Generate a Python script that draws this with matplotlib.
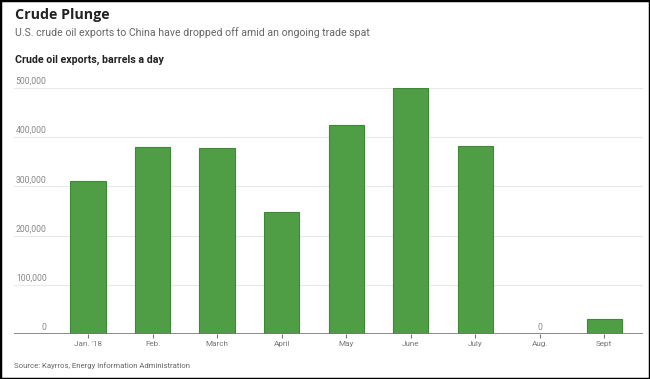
import matplotlib
matplotlib.use("Agg")
import matplotlib.pyplot as plt
from matplotlib.patches import Rectangle

months = ["Jan. '18", "Feb.", "March", "April", "May", "June", "July", "Aug.", "Sept"]
exports = [311000, 380000, 378000, 248000, 425000, 500000, 382000, 0, 30000]
yticks = [0, 100000, 200000, 300000, 400000, 500000]
ytick_labels = ["0", "100,000", "200,000", "300,000", "400,000", "500,000"]

NARROW = ['Roboto', 'DejaVu Sans']
plt.rcParams['font.family'] = ['Open Sans', 'DejaVu Sans']

W, H = 650, 379
fig = plt.figure(figsize=(W/100, H/100), dpi=100)
fig.patches.append(Rectangle((0, 0), 1, 1, transform=fig.transFigure,
                             fill=False, edgecolor='black', linewidth=2.5, zorder=10))

def fx(px): return px / W
def fy(py): return 1 - py / H

fig.text(fx(15), fy(15), "Crude Plunge", fontsize=10.3, fontweight='bold',
         color='#222222', va='center', ha='left')
fig.text(fx(15), fy(33), "U.S. crude oil exports to China have dropped off amid an ongoing trade spat",
         fontsize=7.6, color='#666666', va='center', ha='left', family=NARROW)
fig.text(fx(15), fy(60), "Crude oil exports, barrels a day", fontsize=7.7, fontweight='bold',
         color='#222222', va='center', ha='left', family=NARROW)
fig.text(fx(14), fy(366), "Source: Kayrros, Energy Information Administration",
         fontsize=5.6, color='#666666', va='center', ha='left', family=NARROW)

ax = fig.add_axes([fx(14), fy(334), fx(643) - fx(14), fy(88) - fy(334)])
ax.set_ylim(0, 500000)
ax.set_xlim(-1.15, 8.6)
x = list(range(len(months)))
ax.bar(x, exports, width=0.55, color='#4f9e46', edgecolor='#3d8735', linewidth=0.8, zorder=3)

for t in yticks[1:]:
    ax.axhline(t, color='#e8e8e8', linewidth=0.8, zorder=1)
ax.axhline(0, color='#777777', linewidth=1.2, zorder=4)

for t, lab in zip(yticks, ytick_labels):
    ax.annotate(lab, xy=(0, t), xycoords=('axes fraction', 'data'),
                xytext=(23.5, 1.5), textcoords='offset points', ha='right', va='bottom',
                fontsize=6.2, color='#888888', family=NARROW)

for xi, v in zip(x, exports):
    if v == 0:
        ax.annotate("0", xy=(xi, 0), xytext=(0, 1.5), textcoords='offset points',
                    ha='center', va='bottom', fontsize=6.2, color='#888888', family=NARROW)

ax.set_yticks([])
ax.set_xticks(x)
ax.set_xticklabels(months, fontsize=5.9, color='#777777', family=NARROW)
ax.tick_params(axis='x', length=3, color='#777777', pad=2)
for s in ax.spines.values():
    s.set_visible(False)
ax.patch.set_alpha(0)

fig.savefig("out.png", dpi=100)
